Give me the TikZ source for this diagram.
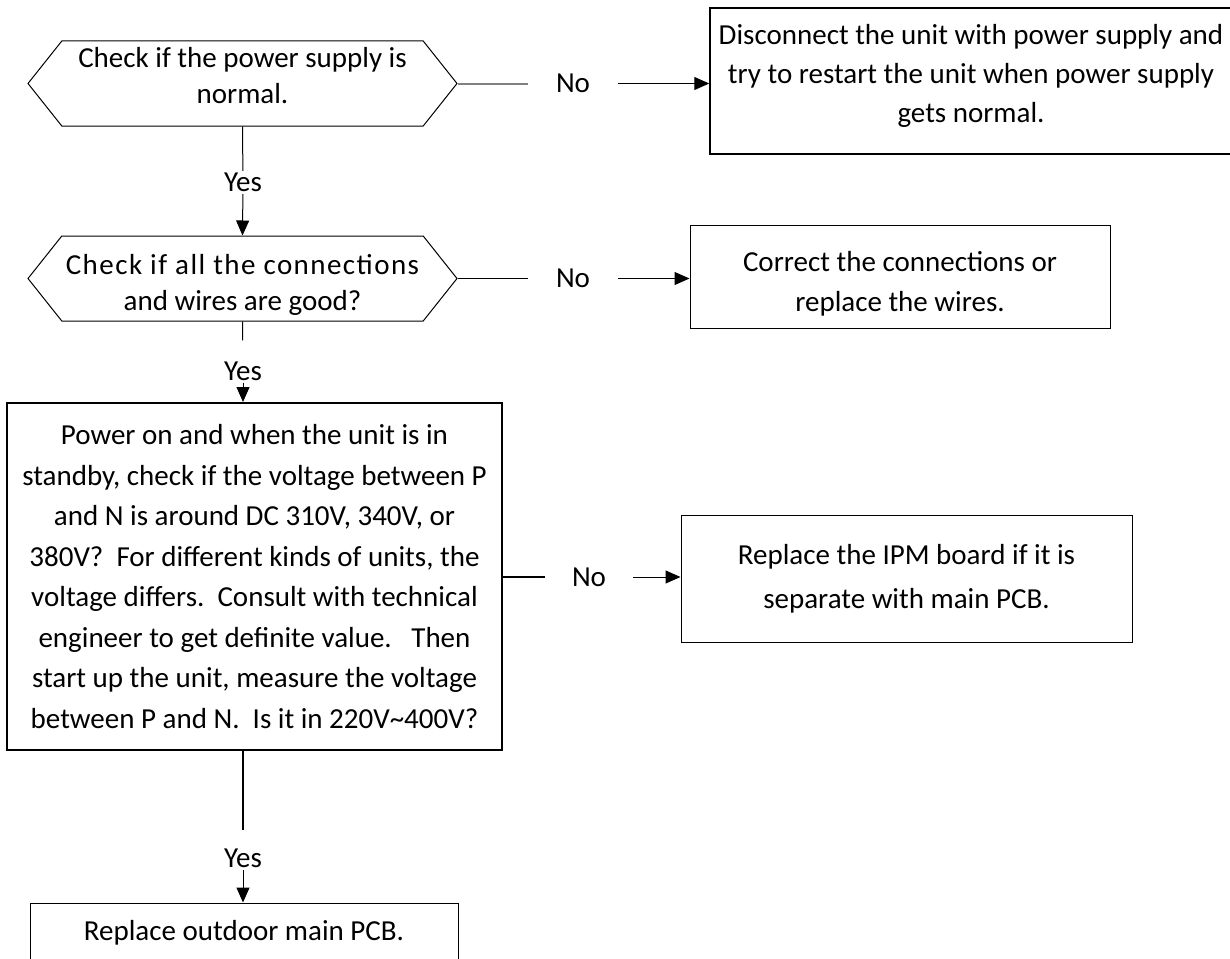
\documentclass[tikz,border=0pt]{standalone}
\usepackage{fontspec}
\setmainfont{Carlito}
\usetikzlibrary{arrows.meta, positioning, shapes.symbols}

\begin{document}
\begin{tikzpicture}[x=1pt, y=-1pt,
    font=\fontsize{29}{40}\selectfont,
    hexbox/.style={signal, signal to=west and east, signal pointer angle=103, draw, line width=1pt,
      minimum width=429pt, minimum height=85pt, inner sep=0pt, align=center, font=\fontsize{29}{36}\selectfont},
    stepbox/.style={rectangle, draw, line width=1pt, inner sep=0pt, align=center},
    lbl/.style={inner sep=0pt},
    conn/.style={line width=1pt},
    arr/.style={-{Triangle[length=15pt, width=13pt]}, line width=1pt}]

  \useasboundingbox (0,0) rectangle (1230,958);

  % Step 1
  \node[hexbox, text depth=16pt] (hex1) at (242.5, 83.5) {Check if the power supply is\\normal.};
  \node[stepbox, line width=1.5pt, minimum width=522pt, minimum height=146pt,
    font=\fontsize{29}{39}\selectfont, text depth=16pt] (box1) at (971, 81)
    {Disconnect the unit with power supply and\\try to restart the unit when power supply\\gets normal.};
  \node[lbl, inner xsep=28pt] (no1) at (573, 83.5) {No};
  \node[lbl, inner ysep=2pt] (yes1) at (243, 182.5) {Yes};

  % Step 2
  \node[hexbox, text height=69pt] (hex2) at (242.5, 278.5)
    {{\addfontfeature{LetterSpace=5}Check if all the connections}\\and wires are good?};
  \node[stepbox, minimum width=420pt, minimum height=103pt, text height=75pt] (box2) at (900, 276.5)
    {Correct the connections or\\replace the wires.};
  \node[lbl, inner xsep=28pt] (no2) at (573, 278.5) {No};
  \node[lbl, inner ysep=2pt] (yes2) at (243, 371) {Yes};

  % Step 3
  \node[stepbox, line width=2pt, minimum width=495pt, minimum height=347pt,
    font=\fontsize{29}{40.5}\selectfont] (box3) at (254.5, 576.5)
    {Power on and when the unit is in\\
     standby, check if the voltage between P\\
     and N is around DC 310V, 340V, or\\
     380V?\ \ For different kinds of units, the\\
     voltage differs.\ \ Consult with technical\\
     engineer to get definite value.\ \ \ Then\\
     start up the unit, measure the voltage\\
     between P and N.\ \ Is it in 220V\textasciitilde400V?};
  \node[stepbox, minimum width=451pt, minimum height=127pt,
    font=\fontsize{29}{44}\selectfont] (box4) at (906.5, 578.5)
    {Replace the IPM board if it is\\separate with main PCB.};
  \node[lbl, inner xsep=27pt] (no3) at (589, 577) {No};
  \node[lbl, inner ysep=2pt] (yes3) at (243, 858) {Yes};

  % Step 4
  \node[stepbox, minimum width=428pt, minimum height=60pt] (box5) at (244, 933)
    {Replace outdoor main PCB.};

  \draw[conn, gray, line width=2pt] (hex1.east) -- (no1);
  \draw[arr] (no1) -- (no1 -| box1.west);
  \draw[conn] (hex1.south) -- (yes1);
  \draw[arr] (yes1) -- (hex2.north);

  \draw[conn] (hex2.east) -- (no2);
  \draw[arr] (no2) -- (no2 -| box2.west);
  \draw[conn, shorten >=19pt] (hex2.south) -- (yes2);
  \draw[arr] (yes2) -- (yes2 |- box3.north);

  \draw[conn, line width=2pt] (box3.east |- no3) -- (no3);
  \draw[arr] (no3) -- (no3 -| box4.west);
  \draw[conn, line width=2pt, shorten >=16pt] (box3.south -| yes3) -- (yes3);
  \draw[arr] (yes3) -- (yes3 |- box5.north);
\end{tikzpicture}
\end{document}
